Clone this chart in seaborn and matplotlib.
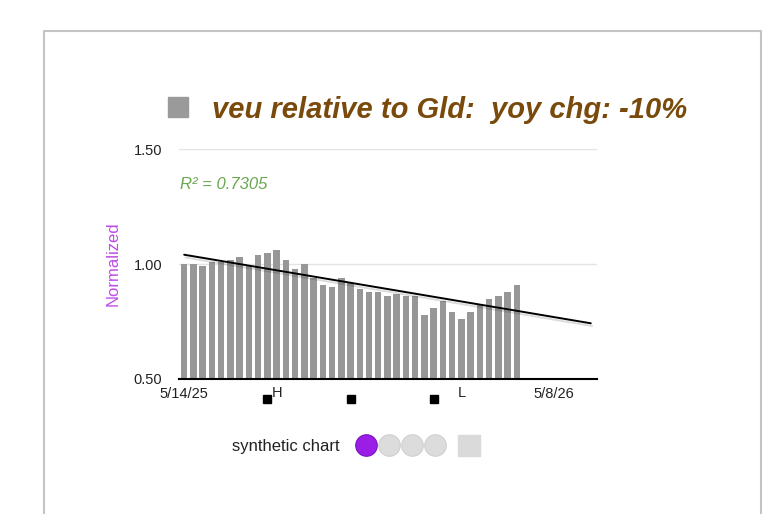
import numpy as np
import pandas as pd
import seaborn as sns
from matplotlib import pyplot as plt
from matplotlib import patheffects as pe
from matplotlib.patches import Rectangle

# weekly ratio veu / gld, normalized
ratio = [1.00, 1.00, 0.99, 1.01, 1.01, 1.02, 1.03, 0.99, 1.04, 1.05,
         1.06, 1.02, 0.98, 1.00, 0.94, 0.91, 0.90, 0.94, 0.92, 0.89,
         0.88, 0.88, 0.86, 0.87, 0.86, 0.86, 0.78, 0.81, 0.84, 0.79,
         0.76, 0.79, 0.82, 0.85, 0.86, 0.88, 0.91]
week_labels = ["5/14/25", "5/8/26"]
week_label_pos = [0, 40]
marker_weeks = [9, 18, 27]
hi_lo_labels = ["H", "L"]
hi_lo_weeks = [10, 30]
trend_end_week = 44
y_ticks = [0.50, 1.00, 1.50]
r2_text = "R\u00b2 = 0.7305"
title_text = "veu relative to Gld:  yoy chg: -10%"

sns.set_theme(style="white")
plt.rcParams["font.family"] = ["Liberation Sans", "DejaVu Sans"]

df = pd.DataFrame({"week": np.arange(len(ratio)), "ratio": ratio})

W, H = 764, 514
fig = plt.figure(figsize=(W / 100, H / 100), dpi=100)

# background layer in pixel coords (frame, title swatch, legend dots)
bg = fig.add_axes([0, 0, 1, 1], zorder=0)
bg.set_xlim(0, W)
bg.set_ylim(H, 0)
bg.axis("off")
bg.plot([44, 44, 761, 761], [H + 5, 31, 31, H + 5], color="#c4c4c4", lw=1.5)
bg.add_patch(Rectangle((168, 97), 20, 20, color="#9a9a9a"))
bg.add_patch(Rectangle((458, 435), 22, 21, color="#dadada"))
bg.scatter([389, 412, 435], [445, 445, 445], s=240, color="#dcdcdc",
           edgecolor="#cfcfcf", linewidth=0.8)
bg.scatter([366], [445], s=240, color="#9b1ee6", edgecolor="#7a10c0", linewidth=0.8)
bg.text(340, 446, "synthetic chart", ha="right", va="center", fontsize=12, color="#222222")

ax = fig.add_axes([179 / W, 1 - 379 / H, (597 - 179) / W, (379 - 149.3) / H], zorder=1)
ax.patch.set_alpha(0)

sns.barplot(data=df, x="week", y="ratio", color="#979797", width=0.7,
            saturation=1, linewidth=0, ax=ax, zorder=2)

# linear trend fitted on the weekly ratio, extended forward
coef = np.polyfit(df["week"], df["ratio"], 1)
tx = np.array([0, trend_end_week])
ax.plot(tx, np.polyval(coef, tx), color="black", lw=1.4, zorder=3,
        path_effects=[pe.SimpleLineShadow(offset=(1, -2), alpha=0.15), pe.Normal()])

ax.set_xlim(-0.56, 44.67)
ax.set_ylim(0.5, 1.5)
ax.set_yticks(y_ticks)
ax.set_yticklabels([f"{v:.2f}" for v in y_ticks], fontsize=10.5, color="#222222")
ax.set_xticks(week_label_pos)
ax.set_xticklabels(week_labels, fontsize=10.5, color="#222222")
ax.tick_params(axis="both", length=0)
ax.tick_params(axis="y", pad=12)
ax.tick_params(axis="x", pad=6)
for v in y_ticks[1:]:
    ax.axhline(v, color="#e4e4e4", lw=1, zorder=1)
for side in ["top", "right", "left"]:
    ax.spines[side].set_visible(False)
ax.spines["bottom"].set_color("black")
ax.spines["bottom"].set_linewidth(1.5)
ax.set_xlabel("")
ax.set_ylabel("")

ax.plot(marker_weeks, [0.413] * len(marker_weeks), "s", color="black",
        markersize=5.5, clip_on=False, zorder=4)
for lab, wk in zip(hi_lo_labels, hi_lo_weeks):
    ax.text(wk, 0.44, lab, ha="center", va="center", fontsize=10.5,
            color="#222222", clip_on=False)

ax.text(-0.5, 1.345, r2_text, ha="left", va="center", fontsize=12,
        style="italic", color="#6aa84f")

fig.text(113 / W, 1 - 264 / H, "Normalized", rotation=90, ha="center", va="center",
         fontsize=12, color="#c04ae6")
fig.text(212 / W, 1 - 110 / H, title_text, ha="left", va="center", fontsize=21,
         fontweight="bold", style="italic", color="#7a4a0c")

fig.savefig("out.png", dpi=100)
plt.close(fig)
